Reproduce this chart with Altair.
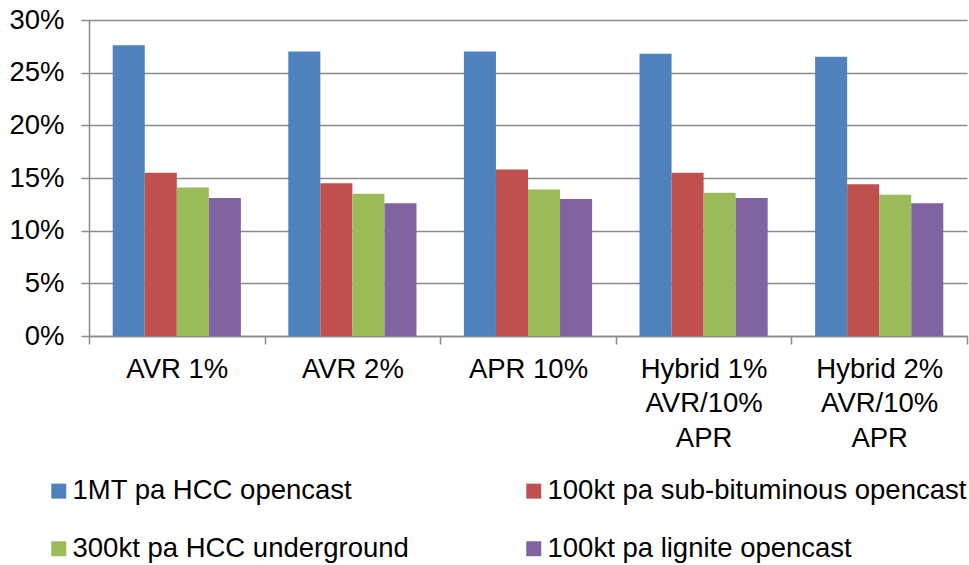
import altair as alt
import pandas as pd

# Scenario groups along the x axis (line breaks give multi-line labels)
scenarios = [
    "AVR 1%",
    "AVR 2%",
    "APR 10%",
    "Hybrid 1%\nAVR/10%\nAPR",
    "Hybrid 2%\nAVR/10%\nAPR",
]

# Mine types (one bar each per scenario)
mines = [
    "1MT pa HCC opencast",
    "100kt pa sub-bituminous opencast",
    "300kt pa HCC underground",
    "100kt pa lignite opencast",
]
mine_colors = ["#4F81BD", "#C0504D", "#9BBB59", "#8064A2"]

# Values as fractions (shown as percentages)
hcc_opencast_1mt = [0.276, 0.270, 0.270, 0.268, 0.265]
subbit_opencast_100kt = [0.155, 0.145, 0.158, 0.155, 0.144]
hcc_underground_300kt = [0.141, 0.135, 0.139, 0.136, 0.134]
lignite_opencast_100kt = [0.131, 0.126, 0.130, 0.131, 0.126]

y_ticks = [0, 0.05, 0.10, 0.15, 0.20, 0.25, 0.30]

series_values = [hcc_opencast_1mt, subbit_opencast_100kt,
                 hcc_underground_300kt, lignite_opencast_100kt]
rows = []
for mine, vals in zip(mines, series_values):
    for sc, v in zip(scenarios, vals):
        rows.append({"scenario": sc, "mine": mine, "value": v})
df = pd.DataFrame(rows)

FONT = "Liberation Sans"
GRAY = "#8a8a8a"
FS = 27.5

chart = (
    alt.Chart(df)
    .mark_bar()
    .encode(
        x=alt.X(
            "scenario:N",
            sort=scenarios,
            scale=alt.Scale(paddingInner=0, paddingOuter=0),
            axis=alt.Axis(
                title=None,
                labelAngle=0,
                tickBand="extent",
                labelExpr="isValid(datum.value) ? split(datum.value, '\\n') : ''",
                labelLineHeight=34.5,
                labelPadding=11,
                tickSize=8,
                grid=False,
            ),
        ),
        xOffset=alt.XOffset(
            "mine:N",
            sort=mines,
            scale=alt.Scale(paddingInner=0, paddingOuter=0.74),
        ),
        y=alt.Y(
            "value:Q",
            scale=alt.Scale(domain=[0, 0.3], nice=False),
            axis=alt.Axis(
                title=None,
                values=y_ticks,
                format=".0%",
                grid=True,
                tickSize=8,
                labelPadding=17,
            ),
        ),
        color=alt.Color(
            "mine:N",
            sort=mines,
            scale=alt.Scale(domain=mines, range=mine_colors),
            legend=alt.Legend(
                title=None,
                orient="none",
                direction="horizontal",
                legendX=-44,
                legendY=457,
                columns=2,
                gridAlign="all",
                columnPadding=28,
                rowPadding=29,
                symbolType="square",
                symbolSize=225,
                symbolStrokeWidth=0,
                labelFontSize=FS,
                labelFont=FONT,
                labelColor="black",
                labelOffset=0,
                labelLimit=600,
            ),
        ),
    )
    .properties(
        width=878,
        height=316,
        autosize=alt.AutoSizeParams(type="none"),
        padding={"left": 89, "top": 20, "right": 2, "bottom": 229},
    )
    .configure_view(stroke=None)
    .configure_axis(
        labelFont=FONT,
        labelFontSize=FS,
        labelColor="black",
        domainColor=GRAY,
        domainWidth=1.5,
        tickColor=GRAY,
        tickWidth=1.5,
        gridColor=GRAY,
        gridWidth=1.5,
    )
)

chart.save("out.html", embed_options={"renderer": "svg", "actions": False})
